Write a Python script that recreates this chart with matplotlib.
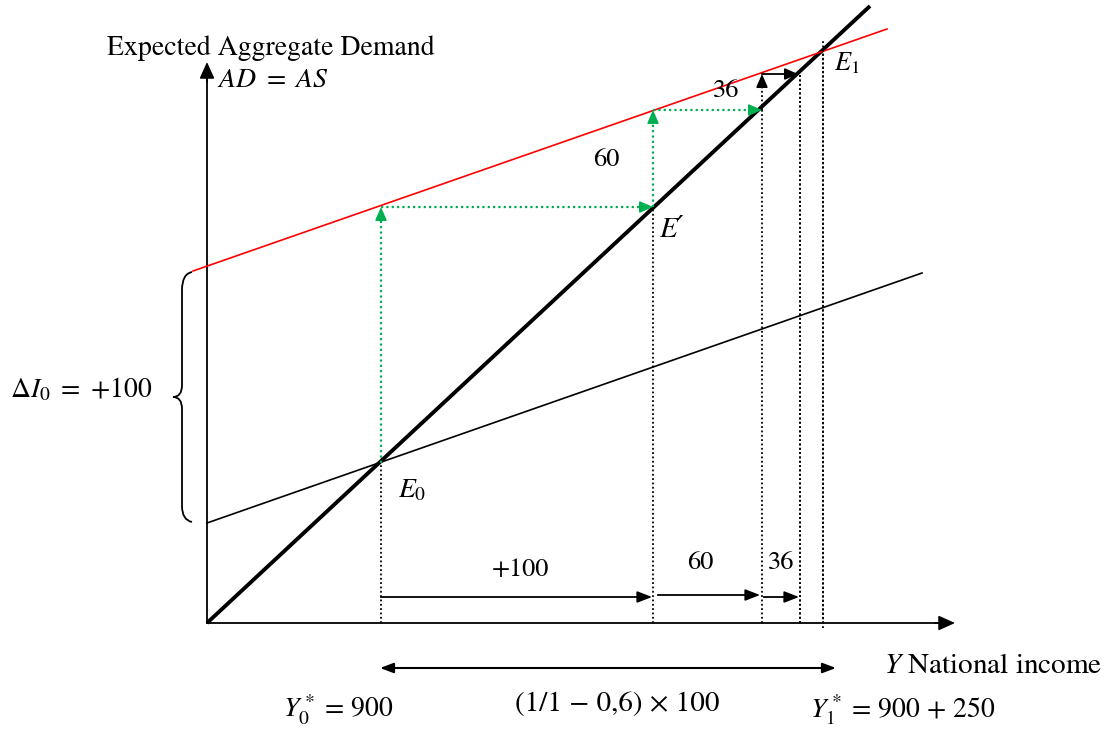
import matplotlib
matplotlib.use('Agg')
import matplotlib.pyplot as plt
from matplotlib.path import Path
from matplotlib.patches import PathPatch

# 图上的几何位置（以图片像素为单位，y向下）
origin = (207, 623)
yAxisTop = 62
xAxisRight = 955

line45X = [207, 870]
line45Y = [623, 6]
ad0X = [207, 922]
ad0Y = [523, 273]
ad1X = [193, 887]
ad1Y = [271, 29]

# 乘数过程的各步 Y 位置
stepX = [381, 653, 762, 800, 823]
stepY45 = [463, 207, 110, 75, 50]     # 45度线上的点
stepYAd1 = [207, 110, 74]             # 红线上的点

bottomArrowY = [597, 595, 597]
bottomLabels = ['+100', '60', '36']
stepLabels = ['60', '36']

green = '#00B050'
red = '#FF0000'
dots = (0, (1, 1.4))

plt.rcParams['mathtext.fontset'] = 'stix'
plt.rcParams['font.family'] = ['STIXGeneral', 'DejaVu Serif']

fig = plt.figure(figsize=(11.12, 7.29), dpi=100)
ax = fig.add_axes([0, 0, 1, 1])
ax.set_xlim(0, 1112)
ax.set_ylim(729, 0)
ax.axis('off')

def arrowHead(x1, y1, x2, y2, color='black', hw=0.45, hl=0.9):
    ax.annotate('', xy=(x2, y2), xytext=(x1, y1),
                arrowprops=dict(arrowstyle='-|>,head_width=%s,head_length=%s' % (hw, hl),
                                color=color, lw=1.2, shrinkA=0, shrinkB=0))

# 坐标轴
ax.plot([origin[0], origin[0]], [origin[1], yAxisTop + 10], color='black', lw=1.3)
arrowHead(origin[0], yAxisTop + 20, origin[0], yAxisTop, hw=0.45, hl=1.0)
ax.plot([origin[0], xAxisRight - 10], [origin[1], origin[1]], color='black', lw=1.3)
arrowHead(xAxisRight - 20, origin[1], xAxisRight, origin[1], hw=0.45, hl=1.0)

# 三条线
ax.plot(line45X, line45Y, color='black', lw=2.8, solid_capstyle='butt')
ax.plot(ad0X, ad0Y, color='black', lw=1.2)
ax.plot(ad1X, ad1Y, color=red, lw=1.2)

# 竖直虚线（到横轴）
for i in range(len(stepX)):
    ax.plot([stepX[i], stepX[i]], [origin[1], stepY45[i]], color='black', ls=dots, lw=1.3)
ax.plot([stepX[4], stepX[4]], [origin[1] + 5, stepY45[4] - 10], color='black', ls=dots, lw=1.3)
ax.plot([stepX[3], stepX[3]], [origin[1], stepYAd1[2]], color='black', ls=dots, lw=1.3)

# 绿色的阶梯
for i in range(2):
    ax.plot([stepX[i], stepX[i]], [stepY45[i], stepYAd1[i] + 8], color=green, ls=dots, lw=1.6)
    arrowHead(stepX[i], stepYAd1[i] + 12, stepX[i], stepYAd1[i], color=green, hw=0.35, hl=0.8)
    ax.plot([stepX[i], stepX[i + 1] - 8], [stepYAd1[i], stepYAd1[i]], color=green, ls=dots, lw=1.6)
    arrowHead(stepX[i + 1] - 12, stepYAd1[i], stepX[i + 1], stepYAd1[i], color=green, hw=0.35, hl=0.8)

# 第三步（黑色）
ax.plot([stepX[2], stepX[2]], [stepY45[2], stepYAd1[2] + 8], color='black', ls=dots, lw=1.3)
arrowHead(stepX[2], stepYAd1[2] + 12, stepX[2], stepYAd1[2], hw=0.35, hl=0.8)
ax.plot([stepX[2], stepX[3] - 8], [stepYAd1[2], stepYAd1[2]], color='black', lw=1.3)
arrowHead(stepX[3] - 12, stepYAd1[2], stepX[3] - 2, stepYAd1[2], hw=0.35, hl=0.8)

# 底部的箭头
starts = [stepX[0], stepX[1] + 5, stepX[2] + 2]
ends = [stepX[1] - 1, stepX[2] - 2, stepX[3] - 1]
for i in range(3):
    ax.plot([starts[i], ends[i] - 10], [bottomArrowY[i], bottomArrowY[i]], color='black', lw=1.3)
    arrowHead(ends[i] - 12, bottomArrowY[i], ends[i], bottomArrowY[i], hw=0.35, hl=0.9)
ax.text(520, 570, bottomLabels[0], fontsize=19, ha='center', va='center')
ax.text(700, 563, bottomLabels[1], fontsize=19, ha='center', va='center')
ax.text(781, 563, bottomLabels[2], fontsize=19, ha='center', va='center')

# 双向箭头
ax.annotate('', xy=(380, 668), xytext=(836, 668),
            arrowprops=dict(arrowstyle='<|-|>,head_width=0.3,head_length=0.8',
                            color='black', lw=1.5, shrinkA=0, shrinkB=0))

# 大括号
bx = 182
verts = [(192, 272), (182, 274), (bx, 290),
         (bx, 385), (bx, 397), (173, 397),
         (bx, 397), (bx, 409),
         (bx, 506), (182, 520), (192, 522)]
codes = [Path.MOVETO, Path.CURVE3, Path.CURVE3,
         Path.LINETO, Path.CURVE3, Path.CURVE3,
         Path.CURVE3, Path.CURVE3,
         Path.LINETO, Path.CURVE3, Path.CURVE3]
ax.add_patch(PathPatch(Path(verts, codes), fill=False, lw=1.3, color='black'))

# 文字
ax.text(107, 48, 'Expected Aggregate Demand', fontsize=20, ha='left', va='center')
ax.text(217, 80, r'$AD\ =\ AS$', fontsize=20, ha='left', va='center')
ax.text(10, 390, r'$\Delta I_0\ =\ {+}100$', fontsize=20, ha='left', va='center')
ax.text(398, 491, r'$E_0$', fontsize=20, ha='left', va='center')
ax.text(659, 230, 'E\u2032', fontsize=21, style='italic', ha='left', va='center')
ax.text(834, 64, r'$E_1$', fontsize=19, ha='left', va='center')
ax.text(606, 160, stepLabels[0], fontsize=19, ha='center', va='center')
ax.text(726, 91, stepLabels[1], fontsize=19, ha='center', va='center')
ax.text(884, 666, r'$Y$ National income', fontsize=21, ha='left', va='center')
ax.text(283, 710, r'$Y_0^*$ = 900', fontsize=20, ha='left', va='center')
ax.text(617, 704, '(1/1 \u2212 0,6) \u00d7 100', fontsize=21, ha='center', va='center')
ax.text(810, 710, r'$Y_1^*$ = 900 + 250', fontsize=20, ha='left', va='center')

fig.savefig('out.png', dpi=100)
